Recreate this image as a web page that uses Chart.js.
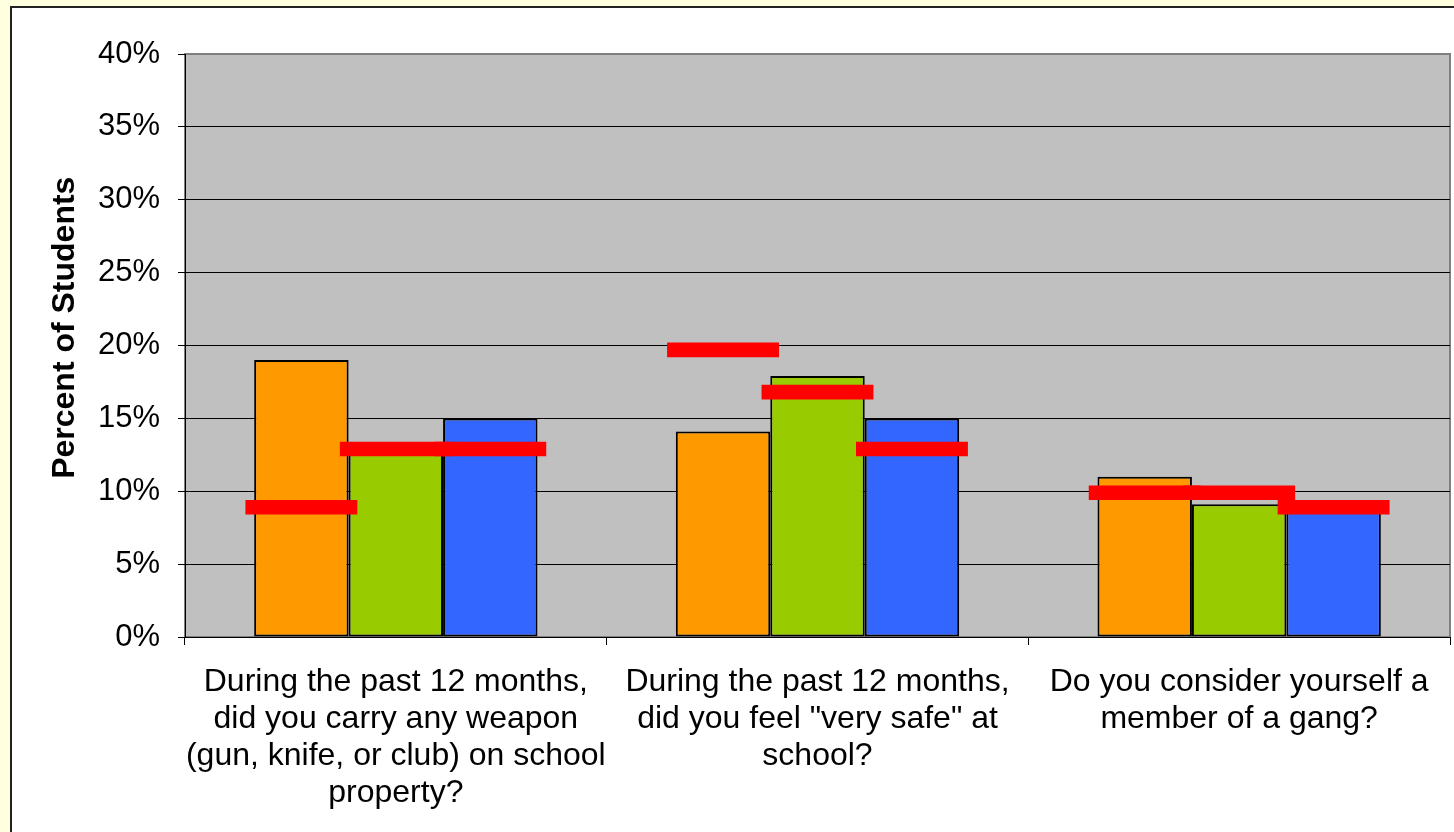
<!DOCTYPE html>
<html>
<head>
<meta charset="utf-8">
<script src="https://cdn.jsdelivr.net/npm/chart.js"></script>
<style>
  html, body { margin: 0; padding: 0; background: #FFFFE0; overflow: hidden; }
  #panel { position: absolute; left: 10px; top: 6px; width: 1500px; height: 900px;
           background: #fff; border-left: 2px solid #222; border-top: 2px solid #222; }
  #myChart { position: absolute; left: 0; top: 0; }
</style>
</head>
<body>
<div id="panel"></div>
<canvas id="myChart" width="1454" height="832"></canvas>
<script>
  const categories = [
    ['During the past 12 months,', 'did you carry any weapon', '(gun, knife, or club) on school', 'property?'],
    ['During the past 12 months,', 'did you feel "very safe" at', 'school?'],
    ['Do you consider yourself a', 'member of a gang?']
  ];
  const seriesNames = ['Series 1', 'Series 2', 'Series 3'];
  const barValues1 = [19.0, 14.1, 11.0];
  const barValues2 = [13.0, 17.9, 9.1];
  const barValues3 = [15.0, 15.0, 8.7];
  const markValues1 = [8.9, 19.7, 9.9];
  const markValues2 = [12.9, 16.8, 9.9];
  const markValues3 = [12.9, 12.9, 8.9];
  const yTicks = [0, 5, 10, 15, 20, 25, 30, 35, 40];

  const barColors = ['#FF9900', '#99CC00', '#3366FF'];
  const markHalf = 0.5;

  const plotBg = {
    id: 'plotBg',
    beforeDraw(chart) {
      const {ctx, chartArea: a} = chart;
      ctx.save();
      ctx.fillStyle = '#C0C0C0';
      ctx.fillRect(a.left, a.top, a.right - a.left, a.bottom - a.top);
      ctx.strokeStyle = '#808080';
      ctx.lineWidth = 2;
      ctx.strokeRect(a.left, a.top, a.right - a.left, a.bottom - a.top);
      ctx.restore();
    }
  };

  const bars = [barValues1, barValues2, barValues3].map((vals, i) => ({
    label: seriesNames[i],
    data: vals,
    stack: 's' + i,
    order: 1,
    backgroundColor: barColors[i],
    borderColor: '#000',
    borderWidth: 2,
    borderSkipped: false,
    categoryPercentage: 0.672,
    barPercentage: 1
  }));

  // red comparison marks, drawn as thin floating bars in the same slot
  const marks = [markValues1, markValues2, markValues3].map((vals, i) => ({
    label: seriesNames[i] + ' comparison',
    data: vals.map(v => [v - markHalf, v + markHalf]),
    stack: 's' + i,
    order: 0,
    backgroundColor: '#FF0000',
    borderWidth: 0,
    categoryPercentage: 0.672,
    barPercentage: 1.185
  }));

  new Chart(document.getElementById('myChart'), {
    type: 'bar',
    data: {
      labels: categories,
      datasets: [...marks, ...bars]
    },
    options: {
      responsive: false,
      animation: false,
      layout: { padding: { left: 46, top: 54, right: 4, bottom: 0 } },
      plugins: { legend: { display: false }, tooltip: { enabled: false } },
      scales: {
        x: {
          grid: { drawOnChartArea: false, color: '#000', tickLength: 8, offset: true },
          border: { color: '#000', width: 1 },
          ticks: {
            color: '#000', maxRotation: 0, autoSkip: false, padding: 19,
            font: { family: "'Liberation Sans', Arial, sans-serif", size: 32, lineHeight: 1.15 }
          },
          afterFit(scale) { scale.height = 195; }
        },
        y: {
          stacked: false,
          min: 0,
          max: 40,
          afterBuildTicks(scale) { scale.ticks = yTicks.map(v => ({ value: v })); },
          grid: {
            color: ctx => (ctx.tick && ctx.tick.value === 40 ? '#808080' : '#000'),
            tickColor: '#000',
            tickLength: 7,
            lineWidth: 1
          },
          border: { color: '#000', width: 1 },
          ticks: {
            color: '#000', padding: 18,
            font: { family: "'Liberation Sans', Arial, sans-serif", size: 31 },
            callback: v => v + '%'
          },
          title: {
            display: true,
            text: '\u00A0\u00A0\u00A0\u00A0Percent of Students',
            color: '#000',
            padding: 0,
            font: { family: "'Liberation Sans', Arial, sans-serif", size: 32, weight: 'bold' }
          },
          afterFit(scale) { scale.width = 139; }
        }
      }
    },
    plugins: [plotBg]
  });
</script>
</body>
</html>
